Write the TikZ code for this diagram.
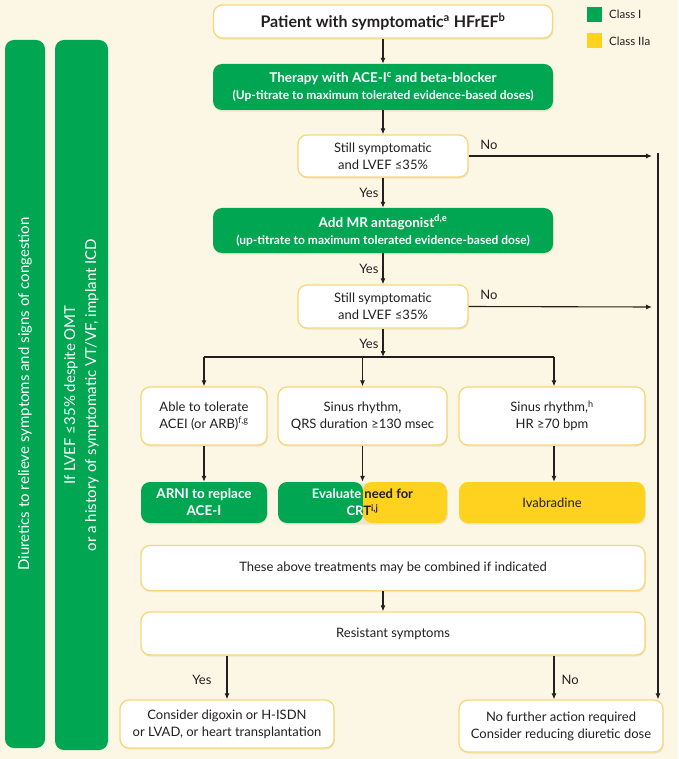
\documentclass[tikz,border=0pt]{standalone}
\usepackage{fontspec}
\setmainfont{Lato}
\usetikzlibrary{arrows.meta,calc,shadows}
\definecolor{bg}{HTML}{FCF6E4}
\definecolor{cgreen}{HTML}{00A651}
\definecolor{cyellow}{HTML}{FFD21F}
\definecolor{cborder}{HTML}{F6D878}
\definecolor{ctext}{HTML}{231F20}
\definecolor{cshadow}{HTML}{E6DDC2}
\tikzset{
  shd/.style={drop shadow={shadow xshift=0.8pt, shadow yshift=-1.6pt, opacity=0.7, fill=cshadow}},
  wbox/.style={shd, draw=cborder, line width=1.3pt, fill=white, rounded corners=9pt, align=center, text=ctext, inner sep=0pt, font=\fontsize{13}{17}\selectfont},
  gbox/.style={shd, fill=cgreen, rounded corners=9pt, align=center, text=white, inner sep=0pt, font=\fontsize{13.5}{17}\selectfont\bfseries},
  ybox/.style={shd, fill=cyellow, rounded corners=9pt, align=center, text=ctext, inner sep=0pt, font=\fontsize{13}{17}\selectfont},
  bar/.style={fill=cgreen, rounded corners=9pt, align=center, text=white, inner sep=0pt, font=\fontsize{15}{21}\selectfont},
  arr/.style={-{Latex[length=6pt,width=5pt]}, line width=1.1pt, draw=ctext},
  plain/.style={line width=1.1pt, draw=ctext},
  lbl/.style={text=ctext, font=\fontsize{13}{15}\selectfont, inner sep=1pt},
  leg/.style={text=ctext, font=\fontsize{11.5}{13}\selectfont, anchor=west, inner sep=0pt},
  txt/.style={align=center, inner sep=0pt, font=\fontsize{13}{17}\selectfont\bfseries}
}
\begin{document}
\begin{tikzpicture}[x=1pt,y=-1pt]
\fill[bg] (0,0) rectangle (678,759);
\useasboundingbox (0,0) rectangle (678,759);

% side bars
\node[bar, minimum width=40pt, minimum height=708pt] (bar1) at (25,394) {};
\node[bar, rotate=90] (bar1t) at (bar1) {Diuretics to relieve symptoms and signs of congestion};
\node[bar, minimum width=53pt, minimum height=710pt] (bar2) at (81.5,395) {};
\node[bar, rotate=90] (bar2t) at (bar2) {If LVEF ≤35\% despite OMT\\or a history of symptomatic VT/VF, implant ICD};

% legend
\node[fill=cgreen, minimum size=15pt, inner sep=0pt] (lg) at (594.5,14.5) {};
\node[leg] (lgt) at (609,14.5) {Class I};
\node[fill=cyellow, minimum size=15pt, inner sep=0pt] (ly) at (594.5,41) {};
\node[leg] (lyt) at (609,41) {Class IIa};

% main column
\node[wbox, minimum width=339pt, minimum height=33pt, font=\fontsize{16}{18}\selectfont\bfseries] (top) at (383,21.5) {Patient with symptomatic\textsuperscript{a} HFrEF\textsuperscript{b}};
\node[gbox, minimum width=340pt, minimum height=46pt, font=\fontsize{12}{17}\selectfont\bfseries] (ther) at (383,87) {{\fontsize{13.5}{17}\selectfont Therapy with ACE-I\textsuperscript{c} and beta-blocker}\\(Up-titrate to maximum tolerated evidence-based doses)};
\node[wbox, minimum width=170pt, minimum height=42pt] (s1) at (383,156) {Still symptomatic\\and LVEF ≤35\%};
\node[gbox, minimum width=340pt, minimum height=45pt, font=\fontsize{12}{17}\selectfont\bfseries] (mr) at (383,230.5) {{\fontsize{13.5}{17}\selectfont Add MR antagonist\textsuperscript{d,e}}\\(up-titrate to maximum tolerated evidence-based dose)};
\node[wbox, minimum width=170pt, minimum height=43pt] (s2) at (383,306.5) {Still symptomatic\\and LVEF ≤35\%};

% three branches
\node[wbox, minimum width=126pt, minimum height=58pt] (b1) at (204,416) {Able to tolerate\\ACEI (or ARB)\textsuperscript{f,g}};
\node[wbox, minimum width=169pt, minimum height=58pt] (b2) at (362.5,416) {Sinus rhythm,\\QRS duration ≥130 msec};
\node[wbox, minimum width=186pt, minimum height=58pt] (b3) at (552,416) {Sinus rhythm,\textsuperscript{h}\\HR ≥70 bpm};

\node[gbox, minimum width=126pt, minimum height=41pt] (g1) at (204,502.5) {ARNI to replace\\ACE-I};
\node[shd, rounded corners=9pt, inner sep=0pt, minimum width=169pt, minimum height=41pt,
  path picture={
    \fill[cgreen] (path picture bounding box.north west) rectangle ($(path picture bounding box.south)+(0.5pt,0)$);
    \fill[cyellow] ($(path picture bounding box.north)+(0.5pt,0)$) rectangle (path picture bounding box.south east);
  }] (g2) at (362.5,502.5) {};
\begin{scope}
  \clip (g2.north west) rectangle ($(g2.south)+(0.5pt,0)$);
  \node[txt, text=white] (g2w) at (g2) {Evaluate need for\\CRT\textsuperscript{i,j}};
\end{scope}
\begin{scope}
  \clip ($(g2.north)+(0.5pt,0)$) rectangle (g2.south east);
  \node[txt, text=ctext] (g2k) at (g2) {Evaluate need for\\CRT\textsuperscript{i,j}};
\end{scope}
\node[ybox, minimum width=186pt, minimum height=41pt] (g3) at (552,502.5) {Ivabradine};

\node[wbox, minimum width=504pt, minimum height=45pt] (comb) at (393,568) {These above treatments may be combined if indicated};
\node[wbox, minimum width=504pt, minimum height=43pt] (res) at (393,633.5) {Resistant symptoms};

\node[wbox, minimum width=214pt, minimum height=48pt] (f1) at (227,724) {Consider digoxin or H-ISDN\\or LVAD, or heart transplantation};
\node[wbox, minimum width=204pt, minimum height=52pt] (f2) at (561,726) {No further action required\\Consider reducing diuretic dose};

% coordinates
\coordinate (br) at (383,357);
\coordinate (bl) at (204,357);
\coordinate (brr) at (554,357);
\coordinate (vr) at (658,153);
\coordinate (n1) at (652,156);
\coordinate (n2) at (652,307);
\coordinate (ax) at (383,0);
\coordinate (yx) at (227,0);
\coordinate (nx) at (554,0);

% connectors
\draw[arr] (top) -- (ther);
\draw[arr] (ther) -- (s1);
\draw[arr] (s1) -- node[lbl, left=3pt] {Yes} (mr);
\draw[arr] (mr) -- node[lbl, left=3pt] {Yes} (s2);
\draw[arr] (s2) -- node[lbl, left=3pt, pos=0.55] {Yes} (br);
\draw[plain] (bl) -- (brr);
\draw[arr] (bl) -- (b1);
\draw[arr] (b2.north |- br) -- (b2);
\draw[arr] (brr) -- (brr |- b3.north);
\draw[arr] (s1.east) -- node[lbl, pos=0.11, above=5pt] {No} (n1);
\draw[arr] (s2.east) -- node[lbl, pos=0.11, above=5pt] {No} (n2);
\draw[arr] (vr) -- (vr |- f2.north);
\draw[arr] (b1) -- (g1);
\draw[arr] (b2) -- (g2);
\draw[arr] (b3.south -| brr) -- (g3.north -| brr);
\draw[arr] (comb.south -| ax) -- (res.north -| ax);
\draw[arr] (res.south -| yx) -- node[lbl, left=14pt, pos=0.55] {Yes} (f1.north -| yx);
\draw[arr] (res.south -| nx) -- node[lbl, right=6pt, pos=0.55] {No} (f2.north -| nx);
\end{tikzpicture}
\end{document}
